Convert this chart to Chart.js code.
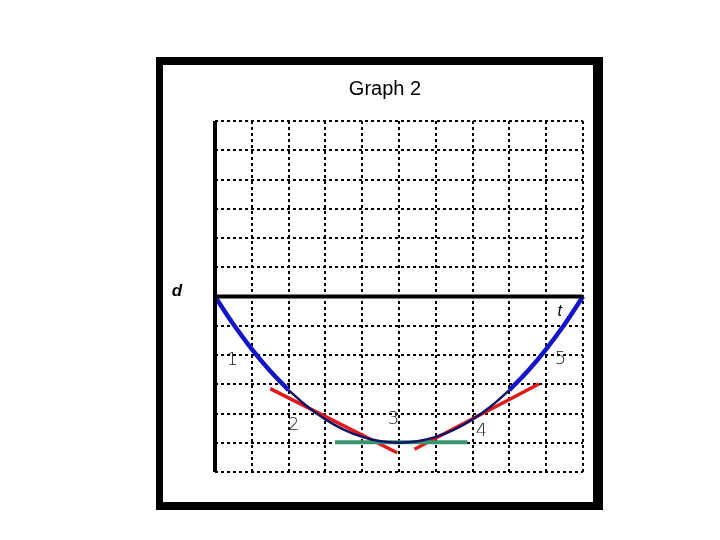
<!DOCTYPE html>
<html>
<head>
<meta charset="utf-8">
<script src="https://cdn.jsdelivr.net/npm/chart.js@4.4.1/dist/chart.umd.min.js"></script>
<style>
html,body{margin:0;padding:0;background:#fff;}
#wrap{width:720px;height:540px;position:relative;}
</style>
</head>
<body>
<div id="wrap"><canvas id="c" width="720" height="540"></canvas></div>
<script>
// ---- data ----
const titleText = "Graph 2";
const curveT = [0, 0.5, 1, 1.5, 2, 2.5, 3, 3.5, 4, 4.5, 5, 5.5, 6, 6.5, 7, 7.5, 8, 8.5, 9, 9.5, 10];
const curveD = [0, -0.95, -1.8, -2.55, -3.2, -3.75, -4.2, -4.55, -4.8, -4.95, -5.0, -4.95, -4.8, -4.55, -4.2, -3.75, -3.2, -2.55, -1.8, -0.95, 0];
const tangentLeftT = [1.5, 4.95];
const tangentLeftD = [-3.15, -5.34];
const tangentRightT = [5.42, 8.8];
const tangentRightD = [-5.22, -2.99];
const flatT = [3.26, 6.86];
const flatD = [-4.98, -4.98];
const segLabels = ["1", "2", "3", "4", "5"];
const segLabelT = [0.47, 2.13, 4.85, 7.24, 9.39];
const segLabelD = [-2.18, -4.41, -4.2, -4.6, -2.15];
const axisLabelY = "d";
const axisLabelX = "t";

function pts(ts, ds, from, to) {
  const out = [];
  for (let i = 0; i < ts.length; i++) {
    if (from === undefined || (ts[i] >= from && ts[i] <= to)) out.push({x: ts[i], y: ds[i]});
  }
  return out;
}

const framePlugin = {
  id: 'frame',
  beforeDraw(chart) {
    const ctx = chart.ctx;
    ctx.save();
    ctx.fillStyle = '#000';
    ctx.fillRect(156, 57, 447, 8);   // top
    ctx.fillRect(156, 502, 447, 8);  // bottom
    ctx.fillRect(156, 57, 7, 453);   // left
    ctx.fillRect(593, 57, 10, 453);  // right
    ctx.restore();
  },
  afterDraw(chart) {
    const ctx = chart.ctx;
    const xs = chart.scales.x, ys = chart.scales.y;
    ctx.save();
    ctx.fillStyle = '#000';
    ctx.textAlign = 'center';
    ctx.textBaseline = 'alphabetic';
    ctx.font = '20px "Liberation Sans", Arial, sans-serif';
    ctx.fillText(titleText, 385, 95);
    ctx.font = 'italic bold 17px "Liberation Sans", Arial, sans-serif';
    ctx.textBaseline = 'middle';
    ctx.fillText(axisLabelY, 177, 291);
    ctx.font = 'italic 16px "Liberation Sans", Arial, sans-serif';
    ctx.fillText(axisLabelX, xs.getPixelForValue(9.37), ys.getPixelForValue(-0.5));
    ctx.font = '300 18px "DejaVu Sans", "Liberation Sans", sans-serif';
    ctx.fillStyle = '#222';
    for (let i = 0; i < segLabels.length; i++) {
      ctx.fillText(segLabels[i], xs.getPixelForValue(segLabelT[i]), ys.getPixelForValue(segLabelD[i]));
    }
    ctx.restore();
  }
};

const gridOpts = {
  color: '#000',
  lineWidth: 2,
  drawTicks: false
};

new Chart(document.getElementById('c'), {
  type: 'scatter',
  data: {
    datasets: [
      {data: [{x: 0, y: 0}, {x: 10, y: 0}], showLine: true, borderColor: '#000', borderWidth: 4, pointRadius: 0, clip: false},
      {data: [{x: 0, y: -6}, {x: 0, y: 6}], showLine: true, borderColor: '#000', borderWidth: 4, pointRadius: 0, clip: false},
      {data: pts(curveT, curveD, 2, 8), showLine: true, borderColor: '#121268', borderWidth: 2.5, pointRadius: 0, tension: 0.4, clip: false},
      {data: pts(flatT, flatD), showLine: true, borderColor: '#3a9470', borderWidth: 4, pointRadius: 0, clip: false},
      {data: pts(tangentLeftT, tangentLeftD), showLine: true, borderColor: '#e01a1a', borderWidth: 3.5, pointRadius: 0, clip: false},
      {data: pts(tangentRightT, tangentRightD), showLine: true, borderColor: '#e01a1a', borderWidth: 3.5, pointRadius: 0, clip: false},
      {data: pts(curveT, curveD, 0, 2), showLine: true, borderColor: '#1414c8', borderWidth: 4.5, pointRadius: 0, tension: 0.4, clip: false},
      {data: pts(curveT, curveD, 8, 10), showLine: true, borderColor: '#1414c8', borderWidth: 4.5, pointRadius: 0, tension: 0.4, clip: false}
    ]
  },
  options: {
    responsive: false,
    animation: false,
    events: [],
    layout: {padding: {left: 215, top: 121, right: 137, bottom: 68}},
    plugins: {legend: {display: false}, title: {display: false}, tooltip: {enabled: false}},
    scales: {
      x: {
        type: 'linear', min: 0, max: 10,
        ticks: {display: false, stepSize: 1},
        grid: gridOpts,
        border: {display: false, dash: [3, 3]}
      },
      y: {
        type: 'linear', min: -6, max: 6,
        ticks: {display: false, stepSize: 1},
        grid: gridOpts,
        border: {display: false, dash: [3, 3]}
      }
    }
  },
  plugins: [framePlugin]
});
</script>
</body>
</html>
